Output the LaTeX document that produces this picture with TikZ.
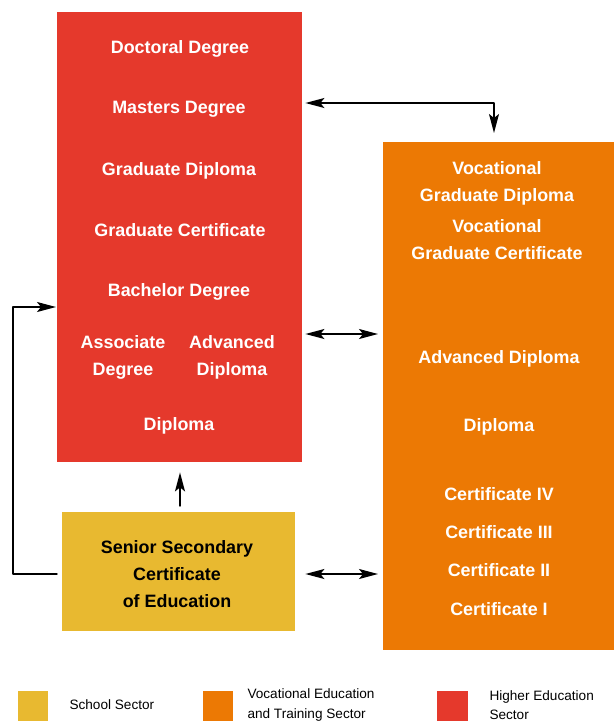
\documentclass[tikz,border=0pt]{standalone}
\usepackage{fontspec}
\setmainfont{Liberation Sans}
\usetikzlibrary{arrows.meta}
\definecolor{hered}{RGB}{229,57,44}
\definecolor{vetorange}{RGB}{236,121,4}
\definecolor{schoolyellow}{RGB}{232,185,48}
\begin{document}
\begin{tikzpicture}[x=1pt, y=-1pt, line join=round, line cap=round,
	>={Stealth[length=19pt,width=10pt,inset=4pt]},
	sector/.style={inner sep=0pt, anchor=north west},
	qual/.style={text=white, font=\fontsize{17.9}{27}\selectfont\bfseries, align=center},
	key/.style={font=\fontsize{13.6}{19.5}\selectfont, align=left, anchor=west},
	link/.style={line width=1.4pt, black}]
\useasboundingbox (0,0) rectangle (614,724);

% sector boxes
\node[sector, fill=hered, minimum width=245pt, minimum height=450pt] (red) at (57,12) {};
\node[sector, fill=vetorange, minimum width=231pt, minimum height=508pt] (orange) at (383,142) {};
\node[sector, fill=schoolyellow, minimum width=233pt, minimum height=119pt] (yellow) at (62,512) {};

% higher education
\node[qual] (doctor) at (180,49) {Doctoral Degree};
\node[qual] (master) at (179,109) {Masters Degree};
\node[qual] (graddip) at (179,171) {Graduate Diploma};
\node[qual] (gradcert) at (180,230) {Graduate Certificate};
\node[qual] (bachelor) at (179,292) {Bachelor Degree};
\node[qual] (assoc) at (123,357) {Associate\\Degree};
\node[qual] (advdip) at (232,357) {Advanced\\Diploma};
\node[qual] (hediploma) at (179,426) {Diploma};

% vocational education and training
\node[qual] (vgd) at (497,183) {Vocational\\Graduate Diploma};
\node[qual] (vgc) at (497,240) {Vocational\\Graduate Certificate};
\node[qual] (vadvdip) at (499,359) {Advanced Diploma};
\node[qual] (vdiploma) at (499,427) {Diploma};
\node[qual] (cfour) at (499,494) {Certificate IV};
\node[qual] (cthree) at (499,532) {Certificate III};
\node[qual] (ctwo) at (499,570) {Certificate II};
\node[qual] (cone) at (499,609) {Certificate I};

% school
\node[qual, text=black] (ssce) at (177,574) {Senior Secondary\\Certificate\\of Education};

% connectors
\path (494,103)coordinate(tc) (0,334)coordinate(mid) (0,574)coordinate(low)
	(13,307)coordinate(lt) (13,574)coordinate(lb) (180,0)coordinate(up);
\draw[link,<->,shorten <=3pt,shorten >=9pt] (red.east |- tc) -- (tc) -- (tc |- orange.north);
\draw[link,<->,shorten <=3pt,shorten >=5pt] (red.east |- mid) -- (orange.west |- mid);
\draw[link,<->,shorten <=10pt,shorten >=5pt] (yellow.east |- low) -- (orange.west |- low);
\draw[link,->,shorten <=5pt,shorten >=1pt] (yellow.west |- lb) -- (lb) -- (lt) -- (red.west |- lt);
\draw[link,->,shorten <=6pt,shorten >=10pt] (yellow.north -| up) -- (red.south -| up);

% legend
\fill[schoolyellow] (18,691) rectangle (48,721);
\fill[vetorange] (203,691) rectangle (233,721);
\fill[hered] (437,691) rectangle (468,721);
\node[key] (kschool) at (66,705) {School Sector};
\node[key] (kvet) at (244,705) {Vocational Education\\and Training Sector};
\node[key] (khe) at (486,705) {Higher Education\\Sector};
\end{tikzpicture}
\end{document}
